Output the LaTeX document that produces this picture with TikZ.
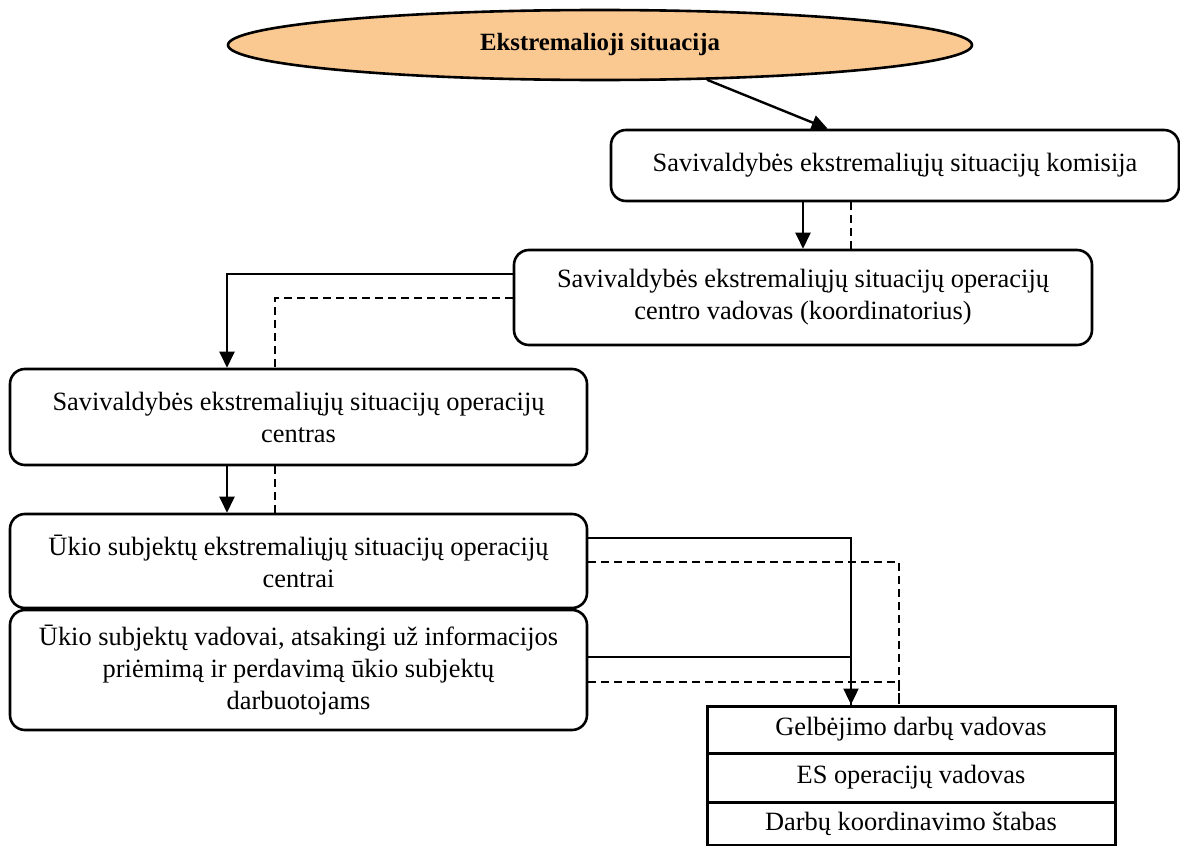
\documentclass[tikz,border=0pt]{standalone}
\usepackage{fontspec}
\setmainfont{Liberation Serif}
\usetikzlibrary{shapes.geometric,arrows.meta,calc}

\definecolor{ellcol}{RGB}{250,200,145}

\tikzset{
  box/.style={rectangle, rounded corners=7.5pt, draw, line width=1.3pt, align=center,
    font=\fontsize{13.2}{16}\selectfont, inner sep=0pt},
  row/.style={rectangle, draw, line width=1.5pt, align=center, minimum width=204pt,
    font=\fontsize{13.2}{16}\selectfont, inner sep=0pt},
  arr/.style={line width=1.2pt, -{Triangle[length=8pt,width=7.5pt]}},
  dsh/.style={line width=1pt, dash pattern=on 4pt off 2.5pt},
}

\begin{document}
\begin{tikzpicture}[x=0.5pt, y=-0.5pt]
    \useasboundingbox (0,0) rectangle (1180,846);

    % virsutine elipse
    \node[ellipse, draw, line width=1.3pt, fill=ellcol, minimum width=372pt, minimum height=35pt,
      inner sep=0pt, font=\fontsize{12.4}{15.5}\selectfont\bfseries] (ell) at (600,45) {Ekstremalioji situacija};

    \node[box, minimum width=284pt, minimum height=35.5pt] (kom) at (895,165.5) {Savivaldybės ekstremaliųjų situacijų komisija};
    \node[box, minimum width=289pt, minimum height=47.5pt] (vad) at (803,297.5) {Savivaldybės ekstremaliųjų situacijų operacijų\\centro vadovas (koordinatorius)};
    \node[box, minimum width=288.5pt, minimum height=48pt] (cen) at (298.5,417) {Savivaldybės ekstremaliųjų situacijų operacijų\\centras};
    \node[box, minimum width=288.5pt, minimum height=47pt] (ukio) at (298.5,561) {Ūkio subjektų ekstremaliųjų situacijų operacijų\\centrai};
    \node[box, minimum width=288.5pt, minimum height=60pt] (vadovai) at (298.5,670) {Ūkio subjektų vadovai, atsakingi už informacijos\\priėmimą ir perdavimą ūkio subjektų\\darbuotojams};

    % lentele apacioje
    \node[row, minimum height=23.5pt] (gelb) at (911,729.5) {Gelbėjimo darbų vadovas};
    \node[row, minimum height=24.5pt] (esop) at (911,777.5) {ES operacijų vadovas};
    \node[row, minimum height=21.5pt] (darb) at (911,823.5) {Darbų koordinavimo štabas};

    \draw[arr] (ell.-18) -- ($(kom.north west)!0.382!(kom.north east)$);

    \draw[arr] (vad.north |- kom.south) -- (vad.north);
    \draw[dsh] ([xshift=24pt]vad.north) -- ([xshift=24pt]vad.north |- kom.south);

    \draw[arr] ([yshift=11.75pt]vad.west) -| ([xshift=-35.75pt]cen.north);
    \draw[dsh] ([yshift=-0.25pt]vad.west) -| ([xshift=-11.75pt]cen.north);

    \draw[arr] ([xshift=-35.75pt]cen.south) -- ([xshift=-35.75pt]ukio.north);
    \draw[dsh] ([xshift=-11.75pt]cen.south) -- ([xshift=-11.75pt]ukio.north);

    \draw[arr] ([yshift=11.5pt]ukio.east) -| ([xshift=-30pt]gelb.north);
    \draw[line width=1.2pt] ([yshift=6.5pt]vadovai.east) -| ([xshift=-30pt]gelb.north);
    \draw[dsh] ([yshift=-0.5pt]ukio.east) -| ([xshift=-6pt]gelb.north);
    \draw[dsh] ([yshift=-6pt]vadovai.east) -| ([xshift=-6pt]gelb.north);

  \end{tikzpicture}
\end{document}
